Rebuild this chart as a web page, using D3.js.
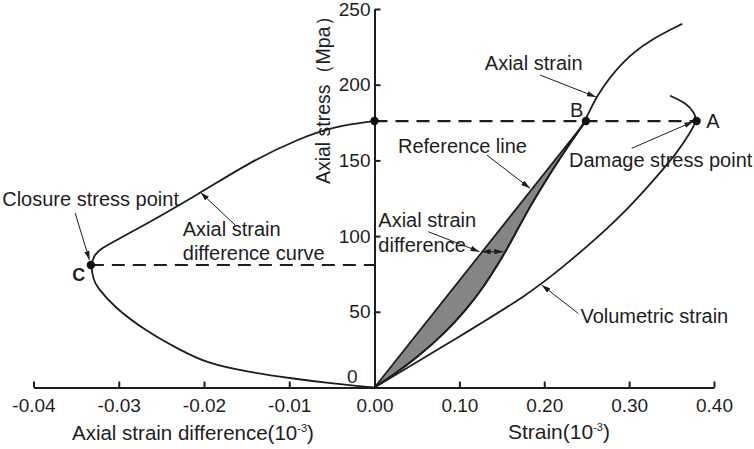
<!DOCTYPE html>
<html>
<head>
<meta charset="utf-8">
<script src="https://cdn.jsdelivr.net/npm/d3@7"></script>
<style>
  body { margin: 0; background: #fff; }
  svg text { font-family: "Liberation Sans", Arial, sans-serif; fill: #1e1e1e; }
</style>
</head>
<body>
<div id="chart"></div>
<script>
// tick values
var yTicks = [0, 50, 100, 150, 200, 250];
var strainTicks = [0, 0.1, 0.2, 0.3, 0.4];
var diffTicks = [-0.04, -0.03, -0.02, -0.01];

// axial strain curve (strain 10^-3, stress MPa)
var axialStrain = [0, 0.0206, 0.0524, 0.0828, 0.1088, 0.1285, 0.1451, 0.1608, 0.1826, 0.2044, 0.2265, 0.2491, 0.2597, 0.2930, 0.3245, 0.3618];
var axialStress = [0, 7.6, 20.8, 36.0, 51.8, 66.4, 80.9, 96.1, 119.2, 139.0, 158.2, 176, 191.7, 216.3, 229.5, 240];

// volumetric strain curve
var volStrain = [0, 0.1, 0.1832, 0.2224, 0.2617, 0.301, 0.3324, 0.356, 0.3716, 0.3795, 0.3775, 0.3677, 0.349];
var volStress = [0, 33.5, 62.2, 79.8, 98.5, 119.4, 139.2, 154.7, 167.9, 176, 181, 187.7, 192.5];

// axial strain difference curve, lower branch first then upper branch
var diffStrain = [0, -0.00522, -0.0099, -0.01498, -0.01967, -0.0228, -0.02671, -0.03062, -0.03257, -0.03297, -0.03327, -0.03297, -0.03218, -0.02905, -0.02046, -0.0142, -0.00873, -0.00483, 0];
var diffStress = [0, 2.8, 6.1, 10.4, 16, 24.8, 36.9, 53.4, 66.6, 71, 80.9, 86.4, 91.9, 100.7, 128.3, 150.3, 164.6, 172.3, 176];

// characteristic points
var damageStress = 176, closureStress = 80.9;
var pointB = 0.2491, pointA = 0.3795, pointC = -0.03327;

var margin = {top: 9, right: 40, bottom: 61.5, left: 33.5},
    w = 754,
    h = 449;
var width = w - margin.left - margin.right,
    height = h - margin.top - margin.bottom,
    split = 341;   // where 0.00 sits

var y = d3.scaleLinear().domain([0, 250]).range([height, 0]);
var xDiff = d3.scaleLinear().domain([-0.04, 0]).range([0, split]);
var xStrain = d3.scaleLinear().domain([0, 0.4]).range([split, width]);

var svg = d3.select("#chart").append("svg")
    .attr("width", w)
    .attr("height", h);

var defs = svg.append("defs");
defs.append("marker")
    .attr("id", "head")
    .attr("viewBox", "0 0 10 6")
    .attr("refX", 10).attr("refY", 3)
    .attr("markerWidth", 9).attr("markerHeight", 5.5)
    .attr("markerUnits", "userSpaceOnUse")
    .attr("orient", "auto-start-reverse")
  .append("path")
    .attr("d", "M0,0L10,3L0,6Z")
    .attr("fill", "#1e1e1e");

var g = svg.append("g").attr("transform", "translate(" + margin.left + "," + margin.top + ")");

var ink = "#1e1e1e";

// axes
var fmt = function(d) { return d.toFixed(2); };
var axD = g.append("g")
    .attr("transform", "translate(0," + height + ")")
    .call(d3.axisBottom(xDiff).tickValues(diffTicks).tickFormat(fmt).tickSize(-6).tickSizeOuter(0).tickPadding(11));
var axS = g.append("g")
    .attr("transform", "translate(0," + height + ")")
    .call(d3.axisBottom(xStrain).tickValues(strainTicks).tickFormat(fmt).tickSize(-6).tickSizeOuter(0).tickPadding(11));
var axY = g.append("g")
    .attr("transform", "translate(" + split + ",0)")
    .call(d3.axisLeft(y).tickValues(yTicks).tickSize(-6).tickSizeOuter(0).tickPadding(4));

[axD, axS, axY].forEach(function(a) {
  a.attr("font-family", null).attr("font-size", null);
  a.selectAll("path, line").attr("stroke", ink).attr("stroke-width", 2);
  a.selectAll("text").attr("font-size", 19).attr("fill", ink);
});
axY.selectAll(".tick text")
    .filter(function(d) { return d === 0; })
    .attr("dx", -13).attr("dy", "-0.25em");

// axis titles
var t1 = g.append("text")
    .attr("x", xDiff(-0.0213)).attr("y", height + 52.5)
    .attr("text-anchor", "middle").attr("font-size", 20.5)
    .text("Axial strain difference(10");
t1.append("tspan").attr("font-size", 11).attr("dy", -8).text("-3");
t1.append("tspan").attr("dy", 8).text(")");

var t2 = g.append("text")
    .attr("x", xStrain(0.2173)).attr("y", height + 51)
    .attr("text-anchor", "middle").attr("font-size", 21)
    .text("Strain(10");
t2.append("tspan").attr("font-size", 11).attr("dy", -8).text("-3");
t2.append("tspan").attr("dy", 8).text(")");

g.append("text")
    .attr("transform", "translate(" + (split - 45) + "," + y(193) + ") rotate(-90)")
    .attr("text-anchor", "middle").attr("font-size", 19.5)
    .text("Axial stress（Mpa）");

// curves
var lineS = d3.line()
    .x(function(d) { return xStrain(d[0]); })
    .y(function(d) { return y(d[1]); })
    .curve(d3.curveBasis);
var lineD = d3.line()
    .x(function(d) { return xDiff(d[0]); })
    .y(function(d) { return y(d[1]); })
    .curve(d3.curveBasis);

var axialPts = d3.zip(axialStrain, axialStress);
var volPts = d3.zip(volStrain, volStress);
var diffPts = d3.zip(diffStrain, diffStress);

// shaded difference between reference line and axial strain curve
g.append("path")
    .attr("d", lineS(axialPts.filter(function(d) { return d[1] <= damageStress; })) + "Z")
    .attr("fill", "#858585")
    .attr("stroke", ink)
    .attr("stroke-width", 1.8)
    .attr("stroke-linejoin", "round");

[[lineS, axialPts], [lineS, volPts], [lineD, diffPts]].forEach(function(c) {
  g.append("path")
      .datum(c[1])
      .attr("fill", "none")
      .attr("stroke", ink)
      .attr("stroke-width", 1.8)
      .attr("stroke-linejoin", "round")
      .attr("stroke-linecap", "round")
      .attr("d", c[0]);
});

// dashed guide lines
g.append("line")
    .attr("x1", xStrain(0)).attr("x2", xStrain(pointA))
    .attr("y1", y(damageStress)).attr("y2", y(damageStress))
    .attr("stroke", ink).attr("stroke-width", 2.2).attr("stroke-dasharray", "13,8");
g.append("line")
    .attr("x1", xDiff(pointC)).attr("x2", xDiff(0))
    .attr("y1", y(closureStress)).attr("y2", y(closureStress))
    .attr("stroke", ink).attr("stroke-width", 2.2).attr("stroke-dasharray", "13,8");

// points
var dots = [[xStrain, 0, damageStress], [xStrain, pointB, damageStress], [xStrain, pointA, damageStress], [xDiff, pointC, closureStress]];
dots.forEach(function(p) {
  g.append("circle").attr("cx", p[0](p[1])).attr("cy", y(p[2])).attr("r", 4.2).attr("fill", "#111");
});

// annotations (anchored in data units)
var notes = [
  [xStrain, "Axial strain", 0.130, 209.7],
  [xStrain, "B", 0.2303, 178.7],
  [xStrain, "A", 0.391, 171.4],
  [xStrain, "Damage stress point", 0.2291, 145.6],
  [xStrain, "Reference line", 0.0277, 154.7],
  [xStrain, "Axial strain", 0.0045, 106.2],
  [xStrain, "difference", 0.0045, 89.7],
  [xStrain, "Volumetric strain", 0.2426, 42.4],
  [xDiff, "Closure stress point", -0.04367, 119.9],
  [xDiff, "Axial strain", -0.02249, 100.1],
  [xDiff, "difference curve", -0.02249, 84.2]
];
notes.forEach(function(n) {
  g.append("text").attr("x", n[0](n[2])).attr("y", y(n[3])).attr("font-size", 20).text(n[1]);
});
g.append("text").attr("x", xDiff(-0.03546)).attr("y", y(70.3))
    .attr("font-size", 18).attr("font-weight", "bold").text("C");

var arrows = [
  [xStrain, 0.195, 206.4, 0.2609, 191.9, false],
  [xStrain, 0.303, 158, 0.3755, 175.6, false],
  [xStrain, 0.1322, 153.6, 0.1831, 131.6, false],
  [xStrain, 0.0634, 102.9, 0.1237, 89.7, false],
  [xStrain, 0.1263, 89.7, 0.1517, 89.7, true],
  [xStrain, 0.24, 49, 0.197, 67.7, false],
  [xDiff, -0.03511, 115.1, -0.03343, 84.2, false],
  [xDiff, -0.01635, 107.3, -0.0204, 128.8, false]
];
arrows.forEach(function(a) {
  var l = g.append("line")
      .attr("x1", a[0](a[1])).attr("y1", y(a[2]))
      .attr("x2", a[0](a[3])).attr("y2", y(a[4]))
      .attr("stroke", ink).attr("stroke-width", 1)
      .attr("marker-end", "url(#head)");
  if (a[5]) l.attr("marker-start", "url(#head)");
});
</script>
</body>
</html>
